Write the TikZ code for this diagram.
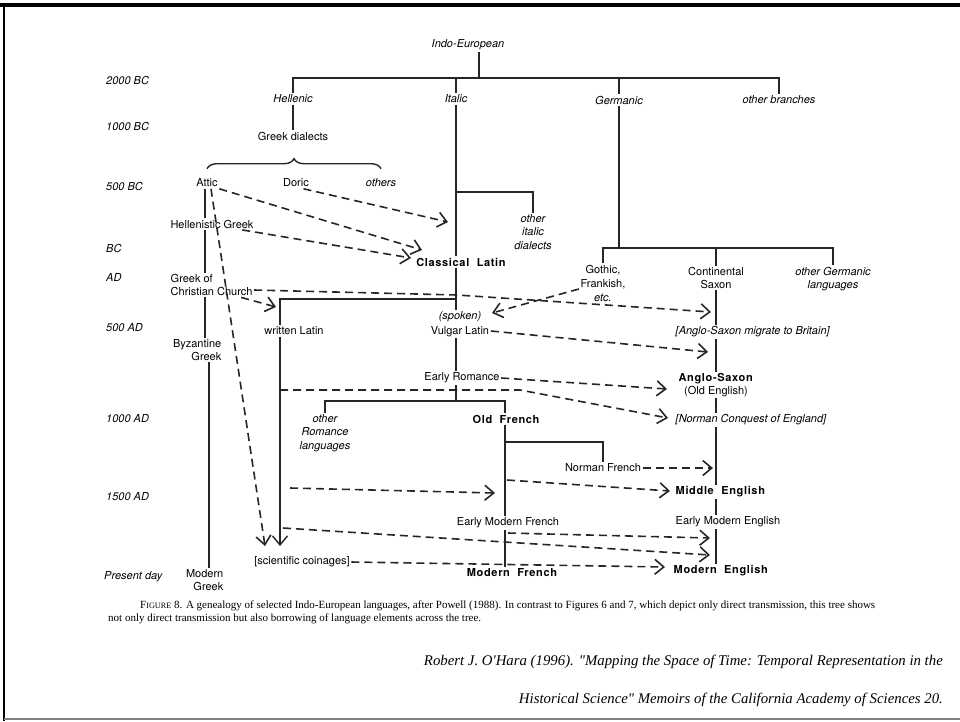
\documentclass[tikz,border=0pt]{standalone}
\usepackage{fontspec}
\setmainfont{TeX Gyre Heros}
\newfontfamily\capserif{Liberation Serif}
\usetikzlibrary{arrows.meta, decorations.pathreplacing}

\begin{document}
\begin{tikzpicture}[x=1pt, y=-1pt,
  lang/.style={inner sep=1.5pt, align=center, font=\fontsize{11}{13}\selectfont},
  branch/.style={lang, font=\fontsize{11}{13.5}\selectfont\itshape},
  major/.style={lang, font=\fontsize{11}{13}\selectfont\bfseries\addfontfeatures{LetterSpace=6}},
  era/.style={anchor=west, inner sep=0pt, font=\fontsize{11}{12}\selectfont\itshape},
  tree/.style={line width=1.4pt, black!85},
  borrow/.style={line width=1.6pt, black!85, dash pattern=on 8pt off 5pt,
                 -{Straight Barb[length=9pt, width=15pt]}},
  bracket/.style={line width=1.4pt, black!85, decorate,
                  decoration={brace, amplitude=10pt}},
  note/.style={anchor=west, inner sep=0pt, font=\capserif\fontsize{11}{13}\selectfont},
  cite/.style={anchor=east, inner sep=0pt, font=\capserif\itshape\fontsize{14.8}{18}\selectfont},
]
\useasboundingbox (0,0) rectangle (960,721);

\draw[line width=3.5pt] (0,5) -- (960,5);
\draw[line width=2.5pt] (4,5) -- (4,721);
\draw[line width=2pt, gray] (4,719) -- (960,719);

\node[era] (era2000) at (106,80) {2000 BC};
\node[era] (era1000) at (106,126) {1000 BC};
\node[era] (era500bc) at (106,186) {500 BC};
\node[era] (erabc) at (106,248) {BC};
\node[era] (eraad) at (106,277) {AD};
\node[era] (era500ad) at (106,328) {500 AD};
\node[era] (era1000ad) at (106,419) {1000 AD};
\node[era] (era1500ad) at (106,497) {1500 AD};
\node[era] (eranow) at (104,577) {Present day};

\node[branch] (ie) at (468,45) {Indo-European};
\node[branch] (hellenic) at (293,99) {Hellenic};
\node[branch] (italic) at (456,99) {Italic};
\node[branch] (germanic) at (619,100) {Germanic};
\node[branch] (otherbr) at (779,100) {other branches};
\node[lang] (gkdial) at (293,136) {Greek dialects};
\node[lang] (attic) at (207,183) {Attic};
\node[lang] (doric) at (296,183) {Doric};
\node[branch] (othgk) at (381,183) {others};
\node[lang] (hellgk) at (212,224) {Hellenistic Greek};
\node[lang, anchor=west, align=left] (gkchurch) at (169,285) {Greek of\\Christian Church};
\node[lang, anchor=east, align=right] (byzgk) at (223,350) {Byzantine\\Greek};
\node[lang, anchor=east, align=right] (modgk) at (225,580) {Modern\\Greek};
\node[branch] (othital) at (533,232) {other\\italic\\dialects};
\node[major] (classlat) at (461,262) {Classical\ \ Latin};
\node[lang, font=\fontsize{11}{15}\selectfont] (vulglat) at (460,324) {{\itshape(spoken)}\\Vulgar Latin};
\node[lang] (writlat) at (294,331) {written Latin};
\node[lang] (scicoin) at (302,562) {[scientific coinages]};
\node[lang] (earlyrom) at (462,378) {Early Romance};
\node[branch] (othrom) at (325,433) {other\\Romance\\languages};
\node[major] (oldfr) at (506,419) {Old\ \ French};
\node[lang] (normfr) at (603,468) {Norman French};
\node[lang] (emfr) at (508,523) {Early Modern French};
\node[major] (modfr) at (512,573) {Modern\ \ French};
\node[lang, font=\fontsize{11}{14}\selectfont] (gothic) at (603,283) {Gothic,\\Frankish,\\{\itshape etc.}};
\node[lang] (contsax) at (716,278) {Continental\\Saxon};
\node[branch] (othgerm) at (833,279) {other Germanic\\languages};
\node[branch, anchor=west] (migrate) at (674,332) {[Anglo-Saxon migrate to Britain]};
\node[lang] (anglosax) at (716,385) {\textbf{\addfontfeatures{LetterSpace=6}Anglo-Saxon}\\(Old English)};
\node[branch, anchor=west] (normconq) at (674,420) {[Norman Conquest of England]};
\node[major, anchor=west] (midengl) at (674,492) {Middle\ \ English};
\node[lang, anchor=west] (emengl) at (674,522) {Early Modern English};
\node[major, anchor=west] (modengl) at (672,571) {Modern\ \ English};

\coordinate (iej) at (479,78);
\coordinate (gkt) at (205,0);
\coordinate (gkt2) at (209,0);
\coordinate (itj) at (456,192);
\coordinate (latj) at (456,299);
\coordinate (wlt) at (280,299);
\coordinate (romj) at (456,401);
\coordinate (frj) at (505,442);
\coordinate (gerj) at (619,248);
\coordinate (engt) at (716,0);
\coordinate (wltip) at (280,546);
\coordinate (attictip2) at (265,546);

\draw[tree] (iej |- ie.south) -- (iej);
\draw[tree] (hellenic.north) |- (iej);
\draw[tree] (otherbr.north) |- (iej);
\draw[tree] (italic.north) -- (italic.north |- iej);
\draw[tree] (germanic.north) -- (germanic.north |- iej);
\draw[tree] (hellenic.south) -- (gkdial.north);
\draw[bracket] ([yshift=8.5pt]attic.north) -- ([yshift=8.5pt]othgk.north);
\draw[tree] (gkt |- attic.south) -- (gkt |- hellgk.north);
\draw[tree] (gkt |- hellgk.south) -- (gkt |- gkchurch.north);
\draw[tree] (gkt |- gkchurch.south) -- (gkt |- byzgk.north);
\draw[tree] (gkt2 |- byzgk.south) -- (gkt2 |- modgk.north);
\draw[tree] (italic.south) -- (italic.south |- classlat.north);
\draw[tree] (othital.north) |- (itj);
\draw[tree] (latj |- classlat.south) -- (latj |- vulglat.north);
\draw[tree] (latj) -- (wlt) -- (wlt |- writlat.north);
\draw[tree, -{Straight Barb[length=9pt, width=15pt]}] (wlt |- writlat.south) -- (wltip);
\draw[tree] (latj |- vulglat.south) -- (latj |- earlyrom.north);
\draw[tree] (latj |- earlyrom.south) -- (romj);
\draw[tree] (othrom.north) |- (romj);
\draw[tree] (frj |- oldfr.north) |- (romj);
\draw[tree] (frj |- oldfr.south) -- (frj |- emfr.north);
\draw[tree] (normfr.north) |- (frj);
\draw[tree] (frj |- emfr.south) -- (frj |- modfr.north);
\draw[tree] (germanic.south) -- (gerj);
\draw[tree] (gothic.north) |- (gerj);
\draw[tree] (othgerm.north) |- (gerj);
\draw[tree] (contsax.north) -- (contsax.north |- gerj);
\draw[tree] (contsax.south) -- (engt |- migrate.north);
\draw[tree] (engt |- migrate.south) -- (engt |- anglosax.north);
\draw[tree] (anglosax.south) -- (engt |- normconq.north);
\draw[tree] (engt |- normconq.south) -- (engt |- midengl.north);
\draw[tree] (engt |- midengl.south) -- (engt |- emengl.north);
\draw[tree] (engt |- emengl.south) -- (engt |- modengl.north);

\coordinate (dorictip) at (448,222);
\coordinate (attictip) at (422,250);
\coordinate (hellgktip) at (411,258);
\coordinate (churchbend) at (457,295);
\coordinate (saxtip) at (711,312);
\coordinate (wltop) at (276,307);
\coordinate (spokentip) at (492,313);
\coordinate (migtip) at (708,352);
\coordinate (oetip) at (667,389);
\coordinate (wlcross) at (280,390);
\coordinate (conqbend) at (520,390);
\coordinate (conqtip) at (668,418);
\coordinate (nftip) at (713,468);
\coordinate (oftrunk) at (507,480);
\coordinate (metip) at (670,491);
\coordinate (wlmid) at (290,488);
\coordinate (oftip) at (495,493);
\coordinate (emftrunk) at (508,533);
\coordinate (emetip) at (710,538);
\coordinate (wllow) at (283,528);
\coordinate (metip2) at (710,555);
\coordinate (mentip) at (665,567);

\draw[borrow] ([xshift=-7pt]doric.south east) -- (dorictip);
\draw[borrow] (attic.south east) -- (attictip);
\draw[borrow] ([xshift=-13pt]hellgk.south east) -- (hellgktip);
\draw[borrow] ([xshift=4pt]attic.south) -- (attictip2);
\draw[borrow] ([yshift=-5pt]gkchurch.east) -- (churchbend) -- (saxtip);
\draw[borrow] ([xshift=-13pt]gkchurch.south east) -- (wltop);
\draw[borrow] ([yshift=-6pt]gothic.west) -- (spokentip);
\draw[borrow] ([yshift=-7pt]vulglat.east) -- (migtip);
\draw[borrow] (earlyrom.east) -- (oetip);
\draw[borrow] (wlcross) -- (conqbend) -- (conqtip);
\draw[borrow] (normfr.east) -- (nftip);
\draw[borrow] (oftrunk) -- (metip);
\draw[borrow] (wlmid) -- (oftip);
\draw[borrow] (emftrunk) -- (emetip);
\draw[borrow] (wllow) -- (metip2);
\draw[borrow] (scicoin.east) -- (mentip);

\node[note] (figcap1) at (140,606) {F{\fontsize{8.2}{9}\selectfont IGURE} 8. A genealogy of selected Indo-European languages, after Powell (1988). In contrast to Figures 6 and 7, which depict only direct transmission, this tree shows};
\node[note] (figcap2) at (108,619) {not only direct transmission but also borrowing of language elements across the tree.};

\node[cite] (cite1) at (943,662) {Robert J. O'Hara (1996). "Mapping the Space of Time: Temporal Representation in the};
\node[cite] (cite2) at (943,700) {Historical Science" Memoirs of the California Academy of Sciences 20.};

\end{tikzpicture}
\end{document}
